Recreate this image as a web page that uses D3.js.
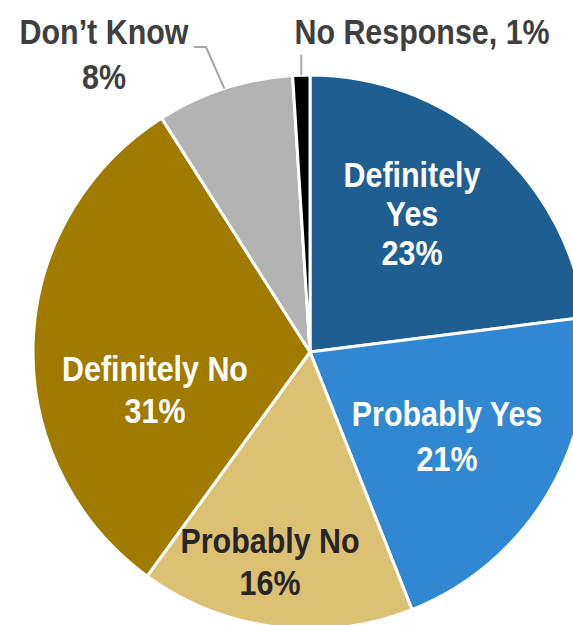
<!DOCTYPE html>
<html>
<head>
<meta charset="utf-8">
<script src="https://cdn.jsdelivr.net/npm/d3@7"></script>
<style>
  html, body { margin: 0; padding: 0; background: #fff; overflow: hidden; }
  svg { display: block; }
  text { font-family: "Liberation Sans", Arial, sans-serif; font-weight: bold; }
</style>
</head>
<body>
<svg id="chart" width="573" height="625"></svg>
<script>
// Data
const categories = ["Definitely Yes", "Probably Yes", "Probably No", "Definitely No", "Don’t Know", "No Response"];
const values = [23, 21, 16, 31, 8, 1];
const colors = ["#1f5e91", "#2f88d1", "#dcc073", "#a17a00", "#b3b3b3", "#000000"];
const labelLines = [
  ["Definitely", "Yes", "23%"],
  ["Probably Yes", "21%"],
  ["Probably No", "16%"],
  ["Definitely No", "31%"],
  ["Don’t Know", "8%"],
  ["No Response, 1%"]
];
const labelColors = ["#ffffff", "#ffffff", "#262626", "#ffffff", "#3f3f3f", "#3f3f3f"];

const svg = d3.select("#chart");
const cx = 310, cy = 352, R = 277;
const g = svg.append("g").attr("transform", `translate(${cx},${cy})`);

const pie = d3.pie().sort(null).value(d => d.v);
const data = categories.map((c, i) => ({ c, v: values[i], i }));
const arcs = pie(data);
const arc = d3.arc().innerRadius(0).outerRadius(R);

g.selectAll("path.slice").data(arcs).enter().append("path")
  .attr("class", "slice")
  .attr("d", arc)
  .attr("fill", d => colors[d.data.i])
  .attr("stroke", "#fff")
  .attr("stroke-width", 3)
  .attr("stroke-linejoin", "round");

// Label placement (offset from centre, per slice)
const labelPos = [
  { x: 102, y: -165, lh: 39 },  // Definitely Yes
  { x: 137, y: 74, lh: 45 },    // Probably Yes
  { x: -40, y: 201, lh: 42 },   // Probably No
  { x: -155, y: 29, lh: 42 },   // Definitely No
  { x: -206, y: -308, lh: 45 }, // Don't Know
  { x: 112, y: -308, lh: 40 }   // No Response
];
const narrow = 0.845;

arcs.forEach((a, k) => {
  const p = labelPos[k];
  labelLines[k].forEach((line, j) => {
    g.append("text")
      .attr("transform", `translate(${p.x},${p.y + j * p.lh}) scale(${narrow},1)`)
      .attr("text-anchor", "middle")
      .attr("font-size", 36)
      .attr("fill", labelColors[k])
      .text(line);
  });
});

// Leader lines
const line = d3.line();
const dkMid = (arcs[4].startAngle + arcs[4].endAngle) / 2;
const dkEdge = [R * Math.sin(dkMid), -R * Math.cos(dkMid)];
g.append("path")
  .attr("d", line([[-116, -305], [-104, -305], dkEdge]))
  .attr("fill", "none").attr("stroke", "#a6a6a6").attr("stroke-width", 2);

const nrMid = (arcs[5].startAngle + arcs[5].endAngle) / 2;
const nrEdge = [R * Math.sin(nrMid), -R * Math.cos(nrMid)];
g.append("path")
  .attr("d", line([[nrEdge[0], -297], nrEdge]))
  .attr("fill", "none").attr("stroke", "#a6a6a6").attr("stroke-width", 2);
</script>
</body>
</html>
